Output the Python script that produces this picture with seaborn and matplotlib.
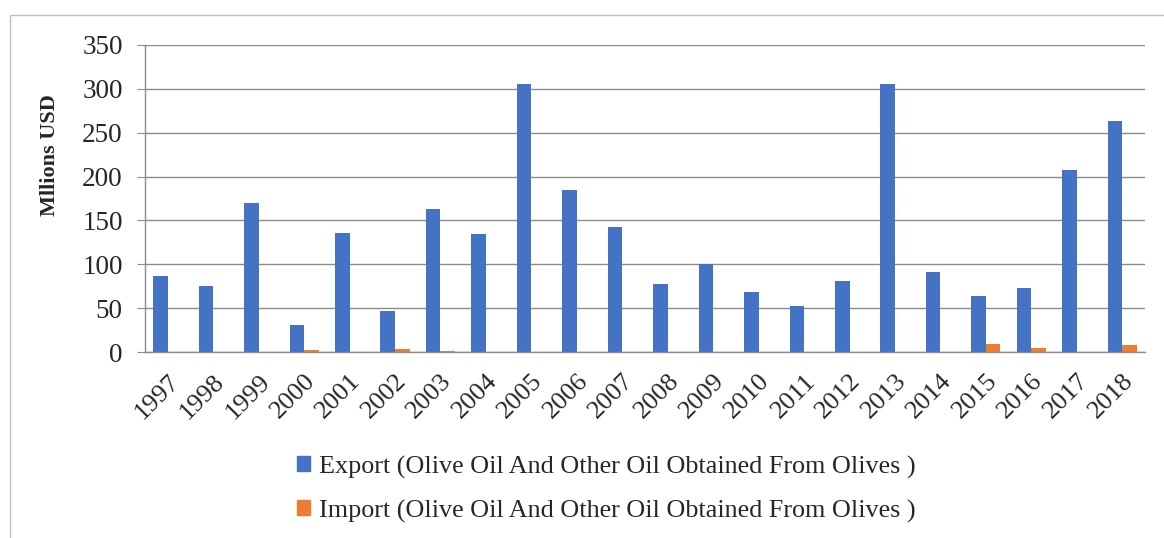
import matplotlib
matplotlib.use("Agg")
import matplotlib.pyplot as plt
import matplotlib.patches as mpatches
import seaborn as sns
import pandas as pd
import numpy as np

years = [str(y) for y in range(1997, 2019)]
export = [87, 75, 170, 31, 136, 47, 163, 135, 305, 185, 142, 77, 100, 68, 52, 81, 306, 91, 64, 73, 207, 263]
imports = [0, 0, 0, 2, 0, 3, 1, 0, 0, 0, 0, 0, 0, 0, 0, 0, 0, 0, 9, 4.5, 0, 8.5]
series_names = ["Export (Olive Oil And Other Oil Obtained From Olives )",
                "Import (Olive Oil And Other Oil Obtained From Olives )"]
colors = ["#4472C4", "#ED7D31"]

df = pd.DataFrame({
    "Year": years * 2,
    "Value": export + imports,
    "Series": [series_names[0]] * len(years) + [series_names[1]] * len(years),
})

sns.set_style("white")
plt.rcParams['font.family'] = ['Liberation Serif', 'DejaVu Serif']

fig = plt.figure(figsize=(11.64, 5.38), dpi=100)
ax = fig.add_axes([145 / 1164, 1 - 352 / 538, 1000 / 1164, 307 / 538])

sns.barplot(data=df, x="Year", y="Value", hue="Series", palette=colors,
            width=0.64, dodge=True, ax=ax, legend=False, saturation=1,
            linewidth=0)

ax.set_xlim(-0.5, len(years) - 0.5)
ax.set_ylim(0, 350)
ax.set_yticks(range(0, 351, 50))
ax.yaxis.grid(True, color="#8c8c8c", linewidth=1)
ax.set_axisbelow(True)
for s in ["top", "right"]:
    ax.spines[s].set_visible(False)
for s in ["left", "bottom"]:
    ax.spines[s].set_color("#8c8c8c")
    ax.spines[s].set_linewidth(1)

# Excel-style ticks at category boundaries
ax.set_xticks(np.arange(len(years)))
ax.set_xticklabels(years, rotation=45, ha="right", rotation_mode="anchor", fontsize=19)
ax.tick_params(axis="x", which="major", length=0, pad=13)
ax.set_xticks(np.arange(-0.5, len(years)), minor=True)
ax.tick_params(axis="x", which="minor", length=6, color="#8c8c8c", direction="out")
ax.tick_params(axis="y", length=6, color="#8c8c8c", direction="out", labelsize=19.5, left=True, pad=10)

ax.set_xlabel("")
ax.set_ylabel("Mllions USD", fontsize=16, fontweight="bold")
ax.yaxis.set_label_coords(-0.085, 0.64)

handles = [mpatches.Patch(color=c) for c in colors]
fig.legend(handles, series_names, loc="center", bbox_to_anchor=(606 / 1164, 1 - 489 / 538),
           ncol=1, frameon=False, fontsize=18.8, handlelength=0.5, handleheight=0.5,
           handletextpad=0.35, labelspacing=0.8)

# outer chart border
fig.patches.append(mpatches.Rectangle((10 / 1164, -0.01), 1.05, 1 - 15 / 538 + 0.01,
                                      transform=fig.transFigure, fill=False,
                                      edgecolor="#bfbfbf", linewidth=1))

fig.savefig("out.png", dpi=100)
